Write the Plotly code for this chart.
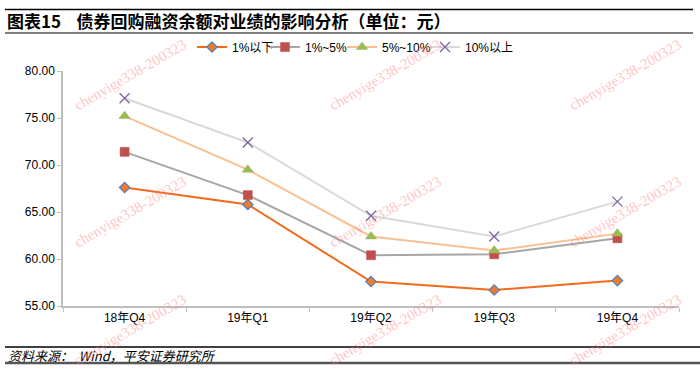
import plotly.graph_objects as go

categories = ["18年Q4", "19年Q1", "19年Q2", "19年Q3", "19年Q4"]
series_names = ["1%以下", "1%~5%", "5%~10%", "10%以上"]
s_below1 = [67.6, 65.8, 57.6, 56.7, 57.7]
s_1to5 = [71.4, 66.8, 60.4, 60.5, 62.2]
s_5to10 = [75.2, 69.5, 62.4, 60.9, 62.7]
s_above10 = [77.1, 72.4, 64.6, 62.4, 66.1]
y_ticks = [55, 60, 65, 70, 75, 80]
title_text = "图表15    债券回购融资余额对业绩的影响分析（单位：元）"
source_text = "资料来源：  Wind，平安证券研究所"
watermark_text = "chenyige338-200323"

W, H = 700, 372
L, R, T, B = 63, 21, 71, 66

fig = go.Figure()

styles = [
    dict(line=dict(color="#F26B1D", width=2),
         marker=dict(symbol="diamond", size=8, color="#F07A2A",
                     line=dict(color="#4F81BD", width=1.2))),
    dict(line=dict(color="#A6A6A6", width=2),
         marker=dict(symbol="square", size=9, color="#C0504D",
                     line=dict(color="#C0504D", width=0.5))),
    dict(line=dict(color="#FAC090", width=2),
         marker=dict(symbol="triangle-up", size=10, color="#9BBB59",
                     line=dict(color="#9BBB59", width=0.5))),
    dict(line=dict(color="#D9D9D9", width=2),
         marker=dict(symbol="x-thin", size=10, color="#8064A2",
                     line=dict(color="#8064A2", width=1.3))),
]
legend_ids = ["legend", "legend2", "legend3", "legend4"]
legend_px = [192, 265, 342, 425]
for name, vals, st, lid in zip(series_names, [s_below1, s_1to5, s_5to10, s_above10], styles, legend_ids):
    fig.add_trace(go.Scatter(x=categories, y=vals, name=name, mode="lines+markers",
                             line=st["line"], marker=st["marker"], legend=lid))

def px_x(p):
    return (p - L) / (W - L - R)

def px_y(p):
    return (H - B - p) / (H - T - B)

shapes = []
for y, color, width, x0, x1 in [(9.5, "#000000", 1.5, 5, 693), (33, "#555555", 1.5, 5, 693),
                                (347, "#000000", 1.5, 5, 700), (363, "#555555", 2.5, 5, 700)]:
    shapes.append(dict(type="line", xref="paper", yref="paper",
                       x0=px_x(x0), x1=px_x(x1), y0=px_y(y), y1=px_y(y),
                       line=dict(color=color, width=width)))

annotations = [
    dict(text="<b>" + title_text + "</b>", xref="paper", yref="paper",
         x=px_x(5), y=px_y(21), xanchor="left", yanchor="middle", showarrow=False,
         font=dict(family="Noto Sans CJK SC", size=17, color="#000000")),
    dict(text="<i>" + source_text + "</i>", xref="paper", yref="paper",
         x=px_x(6), y=px_y(355), xanchor="left", yanchor="middle", showarrow=False,
         font=dict(family="Noto Sans CJK SC", size=13, color="#000000")),
]
for cx in [130, 385, 625]:
    for cy in [75, 212, 330]:
        annotations.append(dict(text=watermark_text, xref="paper", yref="paper",
                                x=px_x(cx), y=px_y(cy), xanchor="center", yanchor="middle",
                                showarrow=False, textangle=-30,
                                font=dict(family="Liberation Serif", size=15,
                                          color="rgba(255,120,120,0.45)")))

legend_layout = {}
for lid, lx in zip(legend_ids, legend_px):
    legend_layout[lid] = dict(orientation="h", x=px_x(lx), y=px_y(47), xanchor="left",
                              yanchor="middle", itemwidth=30,
                              font=dict(size=12, family="Liberation Sans, Noto Sans CJK SC"),
                              bgcolor="rgba(0,0,0,0)")

fig.update_layout(
    width=W, height=H,
    margin=dict(l=L, r=R, t=T, b=B, autoexpand=False),
    paper_bgcolor="white", plot_bgcolor="white",
    font=dict(family="Liberation Sans, Noto Sans CJK SC", size=12, color="#000000"),
    showlegend=True,
    shapes=shapes,
    annotations=annotations,
    xaxis=dict(type="category", range=[-0.5, 4.5], showgrid=False, showline=True,
               linecolor="#BFBFBF", linewidth=1.5, ticks="outside", tickson="boundaries",
               ticklen=4, tickcolor="#BFBFBF", tickwidth=1,
               tickfont=dict(size=12, color="#000000")),
    yaxis=dict(range=[55, 80], tickvals=y_ticks, tickformat=".2f", showgrid=False,
               showline=True, linecolor="#BFBFBF", linewidth=1.5, ticks="outside",
               ticklen=4, tickcolor="#BFBFBF", tickwidth=1, zeroline=False,
               tickfont=dict(size=12, color="#000000")),
    **legend_layout,
)

fig.write_html("out.html", config={"displayModeBar": False},
               post_script="document.body.style.margin='0';document.body.style.padding='0';")
